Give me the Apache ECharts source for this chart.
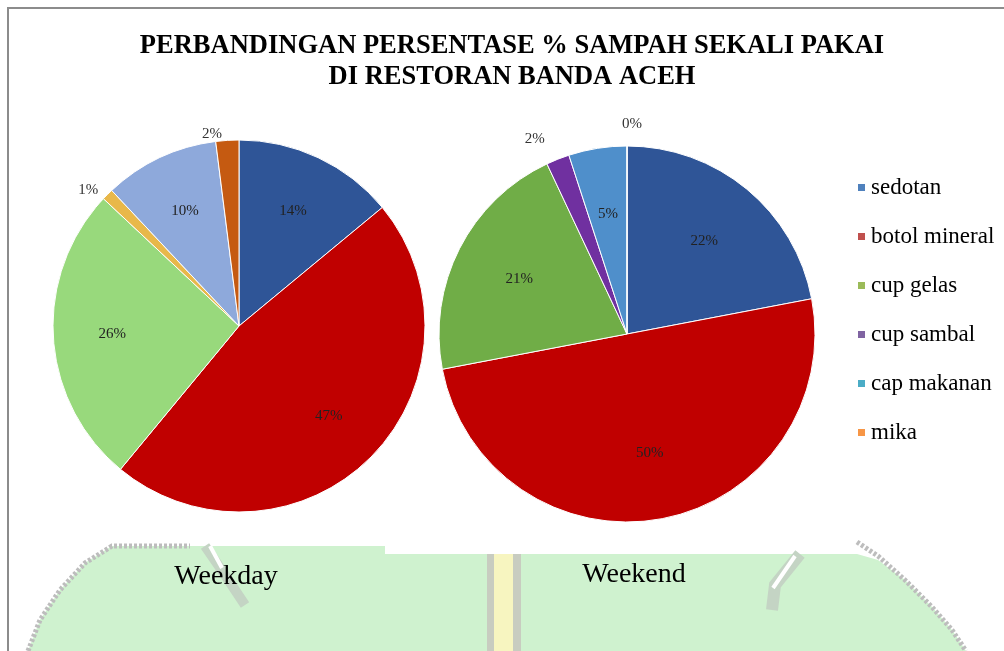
<!DOCTYPE html>
<html>
<head>
<meta charset="utf-8">
<script src="https://cdn.jsdelivr.net/npm/echarts@6/dist/echarts.min.js"></script>
<style>
html, body { margin: 0; padding: 0; background: #fff; }
#chart { width: 1004px; height: 651px; }
</style>
</head>
<body>
<div id="chart"></div>
<script>
// data
const categories = ['sedotan', 'botol mineral', 'cup gelas', 'cup sambal', 'cap makanan', 'mika'];
const weekdayValues = [14, 47, 26, 1, 10, 2];
const weekendValues = [22, 50, 21, 2, 5, 0];
const pieNames = ['Weekday', 'Weekend'];
const titleLines = ['PERBANDINGAN PERSENTASE % SAMPAH SEKALI PAKAI', 'DI RESTORAN BANDA ACEH'];

const weekdayColors = ['#2F5597', '#C00000', '#98D97C', '#E8B84A', '#8EA9DB', '#C55A11'];
const weekendColors = ['#2F5597', '#C00000', '#70AD47', '#7030A0', '#4F8FCB', '#ED7D31'];
const legendColors = ['#4F81BD', '#C0504D', '#9BBB59', '#8064A2', '#4BACC6', '#F79646'];

const serif = '"Liberation Serif", "Times New Roman", serif';
const chart = echarts.init(document.getElementById('chart'));

// small slices get their label outside, the rest inside
function pieSeries(name, values, colors, center, r, labelR, lineLen) {
  const main = {
    name: name,
    type: 'pie',
    center: center,
    radius: r,
    startAngle: 90,
    clockwise: true,
    avoidLabelOverlap: false,
    itemStyle: { borderColor: '#fff', borderWidth: 1 },
    labelLine: { show: false, length: lineLen, length2: 0 },
    emphasis: { scale: false },
    // a zero slice at 12 o'clock: put its label to the right like the original
    labelLayout: function (p) {
      return values[p.dataIndex] === 0 ? { align: 'left' } : {};
    },
    data: categories.map((c, i) => ({
      name: c,
      value: values[i],
      itemStyle: { color: colors[i] },
      label: {
        show: values[i] <= 2,
        position: 'outside',
        formatter: '{c}%',
        fontFamily: serif,
        fontSize: 15,
        color: '#333'
      }
    }))
  };
  const labels = {
    name: name,
    type: 'pie',
    center: center,
    radius: [0, labelR],
    startAngle: 90,
    clockwise: true,
    silent: true,
    itemStyle: { color: 'rgba(0,0,0,0)' },
    labelLine: { show: false },
    data: categories.map((c, i) => ({
      name: c,
      value: values[i],
      label: {
        show: values[i] > 2,
        position: 'inside',
        formatter: '{c}%',
        fontFamily: serif,
        fontSize: 15,
        color: '#222'
      }
    }))
  };
  return [main, labels];
}

chart.setOption({
  backgroundColor: '#fff',
  animation: false,
  legend: {
    orient: 'vertical',
    left: 856,
    top: 176,
    padding: 0,
    itemWidth: 9,
    itemHeight: 9,
    itemGap: 26,
    icon: 'rect',
    textStyle: { fontFamily: serif, fontSize: 23, lineHeight: 23, color: '#000' },
    data: categories.map((c, i) => ({ name: c, itemStyle: { color: legendColors[i] } }))
  },
  graphic: [
    // faded background of the scan
    {
      type: 'polygon', z: -10, silent: true,
      shape: { points: [[112, 546], [385, 546], [385, 554], [857, 554], [878, 560], [905, 580], [932, 607], [952, 630], [966, 651], [28, 651], [40, 620], [60, 590], [85, 563]] },
      style: { fill: '#CFF2CF' }
    },
    { type: 'polyline', z: -9, silent: true, shape: { points: [[28, 651], [40, 620], [60, 590], [85, 563], [112, 546], [190, 546]] }, style: { stroke: '#bdbdbd', lineWidth: 5, lineDash: [3, 2], fill: null } },
    { type: 'polyline', z: -9, silent: true, shape: { points: [[857, 542], [878, 556], [905, 580], [932, 607], [952, 630], [966, 651]] }, style: { stroke: '#bdbdbd', lineWidth: 5, lineDash: [3, 2], fill: null } },
    { type: 'polyline', z: -9, silent: true, shape: { points: [[205, 546], [225, 575], [245, 605]] }, style: { stroke: '#c4d4c4', lineWidth: 10, fill: null } },
    { type: 'polyline', z: -8, silent: true, shape: { points: [[210, 546], [222, 568]] }, style: { stroke: '#fff', lineWidth: 4, fill: null } },
    { type: 'polyline', z: -9, silent: true, shape: { points: [[800, 554], [775, 585], [772, 610]] }, style: { stroke: '#c4d4c4', lineWidth: 12, fill: null } },
    { type: 'polyline', z: -8, silent: true, shape: { points: [[795, 556], [773, 588]] }, style: { stroke: '#fff', lineWidth: 4, fill: null } },
    { type: 'rect', z: -9, silent: true, shape: { x: 487, y: 554, width: 34, height: 97 }, style: { fill: '#c8ccc0' } },
    { type: 'rect', z: -8, silent: true, shape: { x: 494, y: 554, width: 19, height: 97 }, style: { fill: '#F7F5C0' } },
    // page frame
    { type: 'polyline', silent: true, shape: { points: [[8, 651], [8, 8], [1004, 8]] }, style: { stroke: '#8c8c8c', lineWidth: 2, fill: null } },
    // titles
    {
      type: 'text', x: 512, y: 62,
      style: {
        text: titleLines.join('\n'), align: 'center', verticalAlign: 'middle',
        font: 'bold 26.5px ' + serif, lineHeight: 31, fill: '#000'
      }
    },
    { type: 'text', x: 226, y: 577, style: { text: pieNames[0], align: 'center', verticalAlign: 'middle', font: '28px ' + serif, fill: '#000' } },
    { type: 'text', x: 634, y: 575, style: { text: pieNames[1], align: 'center', verticalAlign: 'middle', font: '28px ' + serif, fill: '#000' } }
  ],
  series: [
    ...pieSeries(pieNames[0], weekdayValues, weekdayColors, [239, 326], 186, 248, 6),
    ...pieSeries(pieNames[1], weekendValues, weekendColors, [627, 334], 188, 236, 22)
  ]
});
</script>
</body>
</html>
